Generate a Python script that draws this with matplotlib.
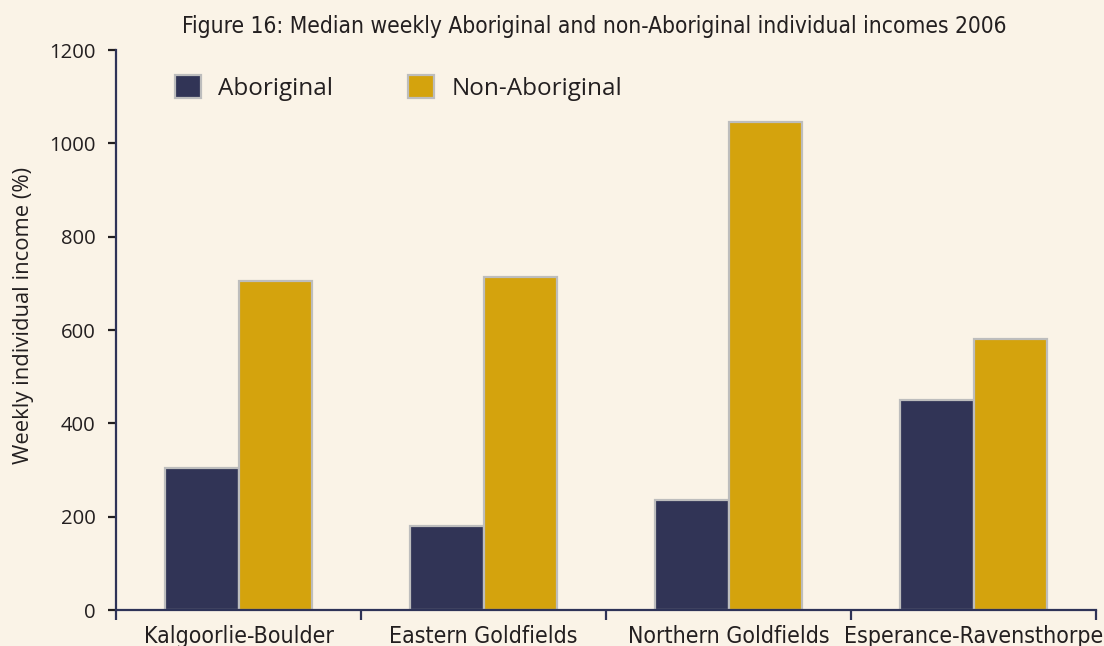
import matplotlib
matplotlib.use('Agg')
import matplotlib.pyplot as plt
from matplotlib.patches import Patch
import numpy as np

# dados
regioes = ['Kalgoorlie-Boulder', 'Eastern Goldfields', 'Northern Goldfields', 'Esperance-Ravensthorpe']
aboriginal = [305, 180, 235, 450]
nao_aboriginal = [705, 714, 1046, 580]
yticks = [0, 200, 400, 600, 800, 1000, 1200]

titulo = 'Figure 16: Median weekly Aboriginal and non-Aboriginal individual incomes 2006'
ylabel = 'Weekly individual income (%)'

FUNDO = '#FAF3E7'
AZUL = '#313456'
OURO = '#D4A30D'
BORDA = '#BDBDBD'
EIXO = '#2E3357'
TEXTO = '#231F20'

normal = ['Open Sans', 'DejaVu Sans']

W, H = 1104, 646
fig = plt.figure(figsize=(W / 100, H / 100), dpi=100, facecolor=FUNDO)
ax = fig.add_axes([116 / W, 1 - 610 / H, (1096 - 116) / W, (610 - 50) / H])
ax.set_facecolor(FUNDO)

x = np.arange(len(regioes)) + 0.5
larg = 0.3
ax.bar(x - larg / 2, aboriginal, width=larg, color=AZUL, edgecolor=BORDA, linewidth=1.6, zorder=3)
ax.bar(x + larg / 2, nao_aboriginal, width=larg, color=OURO, edgecolor=BORDA, linewidth=1.6, zorder=3)

ax.set_xlim(0, len(regioes))
ax.set_ylim(0, 1200)

for s in ['top', 'right']:
    ax.spines[s].set_visible(False)
for s in ['left', 'bottom']:
    ax.spines[s].set_color(EIXO)
    ax.spines[s].set_linewidth(1.6)
    ax.spines[s].set_zorder(4)

ax.set_yticks(yticks)
ax.set_yticklabels([str(v) for v in yticks], family=normal, fontsize=14.6, color=TEXTO)
ax.tick_params(axis='y', direction='out', length=5.8, width=1.6, color=TEXTO, pad=9)

# ticks do eixo x nas divisas, rótulos no centro
ax.set_xticks(np.arange(len(regioes) + 1))
ax.set_xticklabels([])
ax.set_xticks(x, minor=True)
ax.set_xticklabels(regioes, minor=True, family='DejaVu Sans', stretch='condensed',
                   fontsize=16.6, color=TEXTO)
ax.tick_params(axis='x', which='major', direction='out', length=7, width=1.6, color=EIXO)
ax.tick_params(axis='x', which='minor', length=0, pad=10.5)

fig.text(24 / W, 1 - 315 / H, ylabel, rotation=90, ha='center', va='center',
         family=normal, fontsize=15.8, color=TEXTO)
fig.text(594 / W, 1 - 27 / H, titulo, ha='center', va='center',
         family='DejaVu Sans', stretch='condensed', fontsize=16.3, color=TEXTO)

handles = [Patch(facecolor=AZUL, edgecolor=BORDA, linewidth=1.6, label='Aboriginal'),
           Patch(facecolor=OURO, edgecolor=BORDA, linewidth=1.6, label='Non-Aboriginal')]
leg = fig.legend(handles=handles, loc='upper left', bbox_to_anchor=(175 / W, 1 - 75 / H),
                 ncol=2, frameon=False, prop={'family': normal, 'size': 17.5},
                 handlelength=1.07, handleheight=1.07, handletextpad=0.7,
                 columnspacing=3.1, borderpad=0, borderaxespad=0)
for t in leg.get_texts():
    t.set_color(TEXTO)

plt.savefig('out.png', dpi=100, facecolor=FUNDO)
plt.close()
